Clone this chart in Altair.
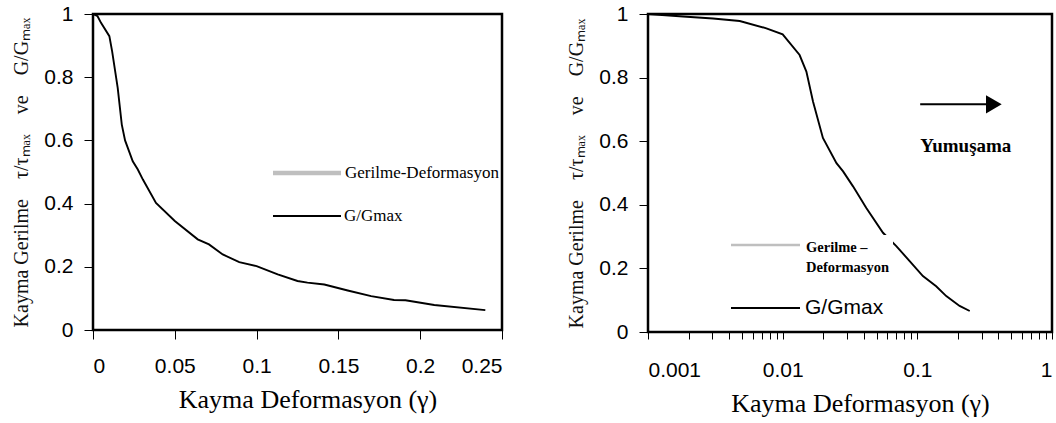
import altair as alt
import pandas as pd

# ---------------- data ----------------
left_x = [0, 0.0028, 0.0049, 0.010, 0.0117, 0.0151, 0.0176, 0.0196, 0.0243, 0.0274,
          0.0305, 0.0385, 0.05, 0.064, 0.0709, 0.0793, 0.0894, 0.1, 0.1129, 0.125,
          0.1311, 0.1414, 0.1557, 0.170, 0.184, 0.191, 0.2086, 0.2398]
left_y = [1.0, 0.993, 0.972, 0.93, 0.882, 0.766, 0.650, 0.600, 0.534, 0.508,
          0.476, 0.402, 0.345, 0.287, 0.271, 0.239, 0.215, 0.202, 0.176, 0.155,
          0.150, 0.144, 0.125, 0.107, 0.095, 0.094, 0.079, 0.063]

right_x = [0.001, 0.00182, 0.00304, 0.0048, 0.00757, 0.01, 0.01336, 0.0150, 0.0168,
           0.0199, 0.0251, 0.0281, 0.0333, 0.0418, 0.0556, 0.0698, 0.0877, 0.110,
           0.138, 0.164, 0.206, 0.245]
right_y = [1.0, 0.992, 0.986, 0.978, 0.955, 0.936, 0.871, 0.819, 0.725, 0.610,
           0.531, 0.505, 0.458, 0.390, 0.312, 0.270, 0.223, 0.176, 0.144, 0.113,
           0.082, 0.066]

legend_left_labels = ["Gerilme-Deformasyon", "G/Gmax"]
legend_right_labels = [["Gerilme –", "Deformasyon"], "G/Gmax"]
series_colors = ["#bfbfbf", "#000000"]

y_ticks = [0, 0.2, 0.4, 0.6, 0.8, 1]
left_x_ticks = [0, 0.05, 0.1, 0.15, 0.2, 0.25]
right_x_ticks = [m * d for d in [0.001, 0.01, 0.1] for m in range(1, 10)] + [1]

arrow_x = [0.105]
arrow_x2 = [0.33]
arrow_head_x = [0.37]
arrow_y = [0.716]
note_x = [0.229]
note_y = [0.585]
note_text = ["Yumuşama"]

x_title = "Kayma Deformasyon (γ)"
y_title = "Kayma Gerilme\u2003τ/τₘₐₓ\u2003ve\u2003G/Gₘₐₓ"

SERIF = "Liberation Serif"
SANS = "Liberation Sans"

left_df = pd.DataFrame({"x": left_x, "y": left_y})
right_df = pd.DataFrame({"x": right_x, "y": right_y})
one = pd.DataFrame({"a": [0]})


def y_axis():
    return alt.Axis(values=y_ticks, format="~g", grid=False, tickSize=9,
                    labelFont=SANS, labelFontSize=21, labelColor="black",
                    labelPadding=11, domainColor="black", tickColor="black",
                    title=y_title, titleFont=SERIF, titleFontSize=20,
                    titleFontWeight="normal", titleColor="#111111", titlePadding=12)


def x_axis(values, width, label_padding, tick_size, label_expr=None):
    kw = dict(values=values, format="~g", grid=False, tickSize=tick_size,
              labelFont=SANS, labelFontSize=21, labelColor="black",
              labelPadding=label_padding, domainColor="black", tickColor="black",
              labelOverlap=False,
              title=x_title, titleFont=SERIF, titleFontSize=26,
              titleFontWeight="normal", titleColor="black", titlePadding=10,
              titleX=width / 2 + 10, titleAlign="center")
    if label_expr:
        kw["labelExpr"] = label_expr
    return alt.Axis(**kw)


def legend_line(x1, x2, y, color, width):
    return alt.Chart(one).mark_rule(color=color, strokeWidth=width).encode(
        x=alt.value(x1), x2=alt.value(x2), y=alt.value(y))


def legend_text(x, y, text, font, size, weight="normal"):
    return alt.Chart(one).mark_text(text=text, font=font, fontSize=size, fontWeight=weight,
                                    color="black", align="left", baseline="middle").encode(
        x=alt.value(x), y=alt.value(y))


# ---------------- left panel ----------------
LW, LH = 409, 316
left_line = alt.Chart(left_df).mark_line(strokeWidth=1.9, color="black").encode(
    x=alt.X("x:Q", scale=alt.Scale(domain=[0, 0.25], nice=False),
            axis=x_axis(left_x_ticks, LW, 16, 9)),
    y=alt.Y("y:Q", scale=alt.Scale(domain=[0, 1], nice=False), axis=y_axis()),
)

left = alt.layer(
    left_line,
    legend_line(180, 248, 159, series_colors[0], 4.5),
    legend_text(252, 159, legend_left_labels[0], SERIF, 17),
    legend_line(180, 248, 202, series_colors[1], 2),
    legend_text(251, 202, legend_left_labels[1], SERIF, 17),
).properties(width=LW, height=LH)

# ---------------- right panel ----------------
RW, RH = 404, 318
right_line = alt.Chart(right_df).mark_line(strokeWidth=1.9, color="black").encode(
    x=alt.X("x:Q", scale=alt.Scale(type="log", domain=[0.001, 1], nice=False),
            axis=x_axis(right_x_ticks, RW, 20, 7,
                        "abs(log(datum.value)/log(10) - round(log(datum.value)/log(10))) < 1e-6 ? datum.label : ''")),
    y=alt.Y("y:Q", scale=alt.Scale(domain=[0, 1], nice=False), axis=y_axis()),
)

legend_box = alt.Chart(one).mark_rect(color="white").encode(
    x=alt.value(80), x2=alt.value(245), y=alt.value(221), y2=alt.value(306))

arrow_df = pd.DataFrame({"x": arrow_x, "x2": arrow_x2, "y": arrow_y})
head_df = pd.DataFrame({"x": arrow_head_x, "y": arrow_y})
note_df = pd.DataFrame({"x": note_x, "y": note_y, "t": note_text})

arrow_rule = alt.Chart(arrow_df).mark_rule(color="black", strokeWidth=2).encode(
    x="x:Q", x2="x2:Q", y="y:Q")
arrow_head = alt.Chart(head_df).mark_point(shape="triangle-right", filled=True,
                                           color="black", size=330, opacity=1).encode(
    x="x:Q", y="y:Q")
note = alt.Chart(note_df).mark_text(font=SERIF, fontSize=19, fontWeight="bold",
                                    color="black").encode(x="x:Q", y="y:Q", text="t:N")

right = alt.layer(
    right_line, legend_box,
    legend_line(83, 152, 231, series_colors[0], 2.5),
    legend_text(158, 234, legend_right_labels[0][0], SERIF, 14.5, "bold"),
    legend_text(158, 254, legend_right_labels[0][1], SERIF, 14.5, "bold"),
    legend_line(83, 152, 294, series_colors[1], 2),
    legend_text(157, 294, legend_right_labels[1], SANS, 21),
    arrow_rule, arrow_head, note,
).properties(width=RW, height=RH)

chart = alt.hconcat(left, right, spacing=61).configure_view(
    stroke="black", strokeWidth=2.5
).properties(padding={"left": 10, "top": 1, "right": 0, "bottom": 0}, background="white")

chart.save("out.html", embed_options={"renderer": "svg", "actions": False})
